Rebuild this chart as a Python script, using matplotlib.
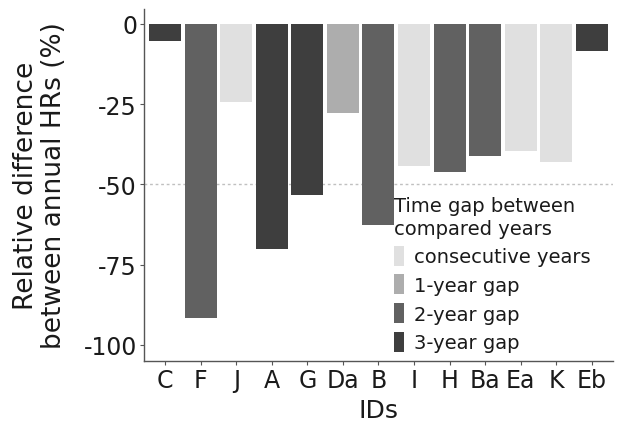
import matplotlib
matplotlib.use("Agg")
import matplotlib.pyplot as plt
from matplotlib.patches import Patch

plt.rcParams['font.family'] = ['DejaVu Sans']

ids = ["C", "F", "J", "A", "G", "Da", "B", "I", "H", "Ba", "Ea", "K", "Eb"]
values = [-5.3, -91.6, -24.2, -70.1, -53.2, -27.7, -62.5, -44.1, -46.1, -41.2, -39.6, -43.0, -8.4]
gaps = ["3-year gap", "2-year gap", "consecutive years", "3-year gap", "3-year gap",
        "1-year gap", "2-year gap", "consecutive years", "2-year gap", "2-year gap",
        "consecutive years", "consecutive years", "3-year gap"]
gap_levels = ["consecutive years", "1-year gap", "2-year gap", "3-year gap"]
gap_colors = {"consecutive years": "#e0e0e0", "1-year gap": "#adadad",
              "2-year gap": "#616161", "3-year gap": "#3e3e3e"}
yticks = [0, -25, -50, -75, -100]

fig = plt.figure(figsize=(6.17, 4.31), dpi=100)
ax = fig.add_axes([0.2334, 0.160, 0.760, 0.817])

x = list(range(1, len(ids) + 1))
ax.bar(x, values, width=0.9, color=[gap_colors[g] for g in gaps], zorder=2)
ax.axhline(-50, color="#c0c0c0", linestyle=(0, (2, 2)), linewidth=1.0, zorder=1)

ax.set_xlim(0.4, 13.6)
ax.set_ylim(-105, 4.7)
ax.set_xticks(x)
ax.set_xticklabels(ids)
ax.set_yticks(yticks)
ax.set_yticklabels([str(t) for t in yticks])
ax.tick_params(axis='both', labelsize=17, colors="#1a1a1a", length=3, width=0.8, pad=2)
ax.tick_params(axis='both', color="#555555")
for s in ["top", "right"]:
    ax.spines[s].set_visible(False)
for s in ["left", "bottom"]:
    ax.spines[s].set_color("#555555")
    ax.spines[s].set_linewidth(1.0)

ax.set_xlabel("IDs", fontsize=18, color="#1a1a1a", labelpad=4)
ax.set_ylabel("Relative difference\nbetween annual HRs (%)", fontsize=19, color="#1a1a1a",
              labelpad=12, linespacing=1.12)

handles = [Patch(facecolor=gap_colors[g], edgecolor="none") for g in gap_levels]
leg = fig.legend(handles, gap_levels, title="Time gap between\ncompared years",
                 loc="upper left", bbox_to_anchor=(0.617, 0.575),
                 frameon=False, fontsize=14, title_fontsize=14,
                 handlelength=0.5, handleheight=1.2, handletextpad=0.5,
                 labelspacing=0.42, borderpad=0.2)
leg._legend_box.align = "left"
for t in leg.get_texts():
    t.set_color("#1a1a1a")
leg.get_title().set_color("#1a1a1a")
leg.get_title().set_linespacing(1.25)

fig.savefig("out.png", dpi=100)
